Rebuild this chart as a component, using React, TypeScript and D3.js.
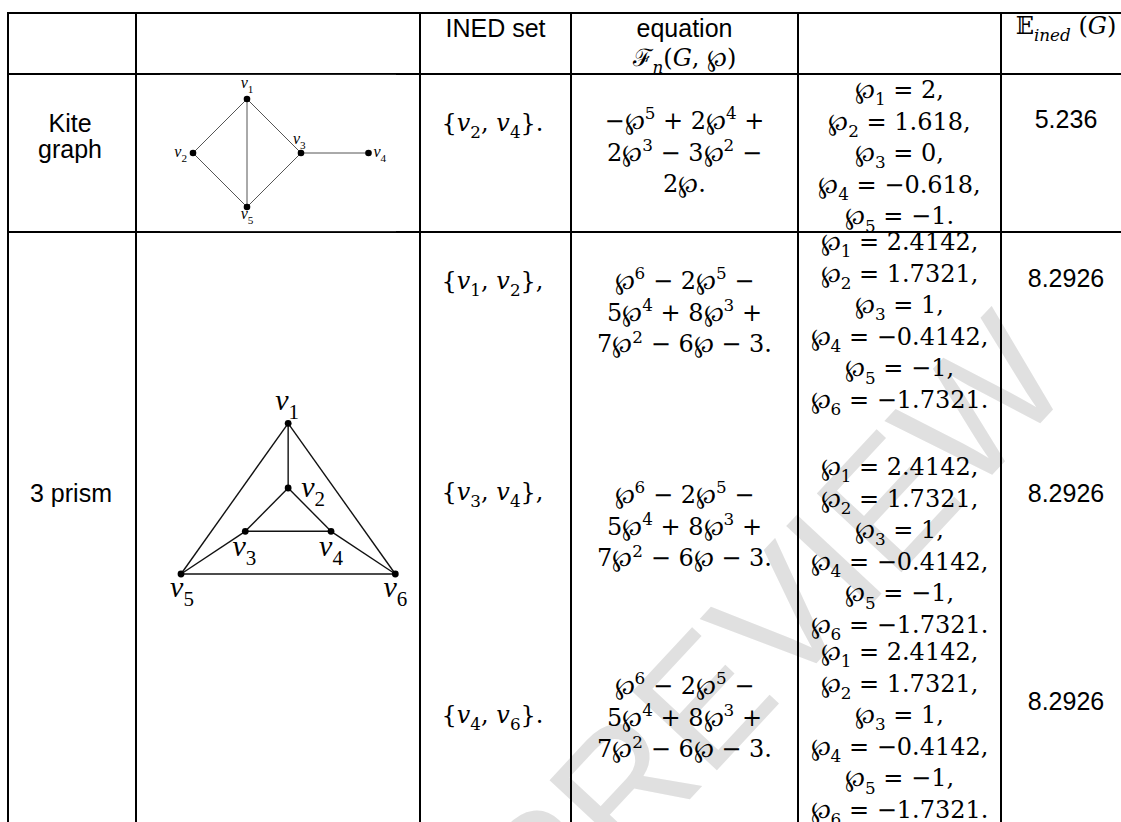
import React from "react";
import * as d3 from "d3";

// header cells (text lines and math lines)
const headerText = ["", "", "INED set", "equation", "", ""];
const headerMath = ["", "", "", "ℱ_n(G, ℘)", "", "𝔼_{ined} (G)"];

const graphNames = [["Kite", "graph"], ["3 prism"]];

const kiteSets = ["{v_2, v_4}."];
const prismSets = ["{v_1, v_2},", "{v_3, v_4},", "{v_4, v_6}."];

// polynomial coefficients, highest degree first
const kitePoly = [-1, 2, 2, -3, -2, 0];
const prismPoly = [1, -2, -5, 8, 7, -6, -3];

const kiteRoots = [2, 1.618, 0, -0.618, -1];
const prismRoots = [2.4142, 1.7321, 1, -0.4142, -1, -1.7321];

const kiteEnergy = [5.236];
const prismEnergy = [8.2926, 8.2926, 8.2926];

// graph drawings, node positions in unit coords
const kiteNodes = [
  { id: "1", x: 0, y: -1 },
  { id: "2", x: -1, y: 0 },
  { id: "3", x: 1, y: 0 },
  { id: "4", x: 2.25, y: 0 },
  { id: "5", x: 0, y: 1 },
];
const kiteEdges = [["1", "2"], ["1", "3"], ["1", "5"], ["2", "5"], ["3", "5"], ["3", "4"]];

const prismNodes = [
  { id: "1", x: 0, y: 0 },
  { id: "2", x: 0, y: 1 },
  { id: "3", x: -0.66, y: 1.67 },
  { id: "4", x: 0.66, y: 1.67 },
  { id: "5", x: -1.65, y: 2.33 },
  { id: "6", x: 1.65, y: 2.33 },
];
const prismEdges = [["1", "2"], ["1", "5"], ["1", "6"], ["2", "3"], ["2", "4"], ["3", "4"], ["3", "5"], ["4", "6"], ["5", "6"]];

// layout
const W = 1121;
const H = 822;
const colEdges = [8, 136, 420, 571, 798, 1001, 1131];
const rowEdges = [13, 74, 232, 840];
const lineH = 31.6;
const SANS = "'Liberation Sans', Arial, sans-serif";
const MATH = "'DejaVu Serif', 'Liberation Serif', serif";
const FS = 25;
const MFS = 24;

const colMid = (i: number) => (colEdges[i] + colEdges[i + 1]) / 2;

function polyLines(c: number[]) {
  const deg = c.length - 1;
  const terms: { sign: string; body: string }[] = [];
  c.forEach((a, i) => {
    const p = deg - i;
    if (a === 0) return;
    const abs = Math.abs(a);
    const coef = abs === 1 && p > 0 ? "" : String(abs);
    const v = p === 0 ? "" : p === 1 ? "℘" : `℘^${p}`;
    terms.push({ sign: a < 0 ? "−" : "+", body: coef + v });
  });
  const chunks = [terms.slice(0, 2), terms.slice(2, 4), terms.slice(4)];
  let idx = 0;
  return chunks.map((ch, ci) => {
    let s = "";
    ch.forEach((t, k) => {
      if (idx === 0) s += (t.sign === "−" ? "−" : "") + t.body;
      else if (k === 0) s += t.body;
      else s += ` ${t.sign} ${t.body}`;
      idx++;
    });
    if (ci < chunks.length - 1) s += ` ${terms[idx].sign}`;
    else s += ".";
    return s;
  });
}

const rootLines = (r: number[]) =>
  r.map((v, i) => `℘_${i + 1} = ${v < 0 ? "−" : ""}${Math.abs(v)}${i < r.length - 1 ? "," : "."}`);

function parseMath(s: string) {
  const out: { t: string; k: string }[] = [];
  let buf = "";
  let i = 0;
  while (i < s.length) {
    const c = s[i];
    if (c === "_" || c === "^") {
      if (buf) out.push({ t: buf, k: "n" });
      buf = "";
      let arg = "";
      if (s[i + 1] === "{") {
        const j = s.indexOf("}", i + 2);
        arg = s.slice(i + 2, j);
        i = j + 1;
      } else {
        arg = s[i + 1];
        i += 2;
      }
      out.push({ t: arg, k: c === "_" ? "sub" : "sup" });
    } else {
      buf += c;
      i++;
    }
  }
  if (buf) out.push({ t: buf, k: "n" });
  return out;
}

function MathText({ x, y, s, size = MFS, anchor = "middle", family = MATH }: any) {
  const segs = parseMath(s);
  let cur = 0;
  const spans: any[] = [];
  segs.forEach((seg, i) => {
    const target = seg.k === "sub" ? size * 0.3 : seg.k === "sup" ? -size * 0.4 : 0;
    const fs = seg.k === "n" ? size : size * 0.7;
    const parts = seg.t.split(/([A-Za-z]+)/).filter((p) => p);
    parts.forEach((p, j) => {
      const dy = j === 0 ? target - cur : 0;
      spans.push(
        <tspan key={`${i}-${j}`} dy={dy} fontSize={fs} fontStyle={/[A-Za-z]/.test(p) ? "italic" : "normal"}>
          {p}
        </tspan>
      );
    });
    cur = target;
  });
  return (
    <text x={x} y={y} textAnchor={anchor} fontFamily={family} fill="#000" style={{ whiteSpace: "pre" }}>
      {spans}
    </text>
  );
}

function Graph({ nodes, edges, xs, ys, r, stroke, sw, labels, lsize }: any) {
  const byId = new Map(nodes.map((n: any) => [n.id, n]));
  return (
    <g>
      {edges.map(([a, b]: string[]) => {
        const na: any = byId.get(a);
        const nb: any = byId.get(b);
        return <line key={a + b} x1={xs(na.x)} y1={ys(na.y)} x2={xs(nb.x)} y2={ys(nb.y)} stroke={stroke} strokeWidth={sw} />;
      })}
      {nodes.map((n: any) => (
        <circle key={n.id} cx={xs(n.x)} cy={ys(n.y)} r={r} fill="#000" />
      ))}
      {nodes.map((n: any, i: number) => {
        const l = labels[i];
        return (
          <MathText key={"l" + n.id} x={xs(n.x) + l.dx} y={ys(n.y) + l.dy} s={`v_${n.id}`} size={lsize} anchor={l.a} family="'Liberation Serif', serif" />
        );
      })}
    </g>
  );
}

const kiteLabelPos = [
  { dx: 0, dy: -11, a: "middle" },
  { dx: -6, dy: 4, a: "end" },
  { dx: -8, dy: -9, a: "start" },
  { dx: 5, dy: 4, a: "start" },
  { dx: 0, dy: 12, a: "middle" },
];
const prismLabelPos = [
  { dx: -1, dy: -13, a: "middle" },
  { dx: 13, dy: 9, a: "start" },
  { dx: -1, dy: 25, a: "middle" },
  { dx: 0, dy: 25, a: "middle" },
  { dx: 1, dy: 23, a: "middle" },
  { dx: 0, dy: 23, a: "middle" },
];

export default function App() {
  const kx = d3.scaleLinear().domain([-1, 1]).range([193, 301]);
  const ky = d3.scaleLinear().domain([-1, 1]).range([99, 207]);
  const px = d3.scaleLinear().domain([-1.65, 1.65]).range([181, 395.3]);
  const py = d3.scaleLinear().domain([0, 2.33]).range([423.3, 574]);

  const kiteEq = polyLines(kitePoly);
  const prismEq = polyLines(prismPoly);
  const kr = rootLines(kiteRoots);
  const pr = rootLines(prismRoots);

  const right = colEdges[colEdges.length - 1];
  const bottom = rowEdges[rowEdges.length - 1];

  return (
    <svg width={W} height={H} style={{ position: "absolute", left: 0, top: 0, background: "#fff" }}>
      <rect width={W} height={H} fill="#fff" />
      <text
        transform="translate(770,628) rotate(-47)"
        textAnchor="middle"
        dominantBaseline="central"
        fontFamily={SANS}
        fontSize={168}
        fill="#e0e0e0"
      >
        PREVIEW
      </text>

      {/* grid */}
      {colEdges.slice(0, -1).map((x) => (
        <line key={"c" + x} x1={x} x2={x} y1={rowEdges[0] - 1} y2={bottom} stroke="#000" strokeWidth={2} />
      ))}
      {rowEdges.slice(0, -1).map((y) => (
        <line key={"r" + y} x1={colEdges[0] - 1} x2={right} y1={y} y2={y} stroke="#000" strokeWidth={2} />
      ))}

      {/* header */}
      {headerText.map((t, i) =>
        t ? (
          <text key={"h" + i} x={colMid(i)} y={37} textAnchor="middle" fontFamily={SANS} fontSize={FS}>
            {t}
          </text>
        ) : null
      )}
      {headerMath.map((t, i) =>
        t ? <MathText key={"hm" + i} x={i === 5 ? 1066 : colMid(i)} y={i === 5 ? 34 : 66} s={t} /> : null
      )}

      {/* kite row */}
      {graphNames[0].map((t, i) => (
        <text key={"k" + i} x={colMid(0) - 2} y={132 + i * 26} textAnchor="middle" fontFamily={SANS} fontSize={FS}>
          {t}
        </text>
      ))}
      <rect x={160} y={74} width={236} height={158} fill="#fff" />
      <line x1={160} x2={396} y1={74.5} y2={74.5} stroke="#222" strokeWidth={1.2} />
      <line x1={160} x2={396} y1={231.5} y2={231.5} stroke="#222" strokeWidth={1.2} />
      <Graph nodes={kiteNodes} edges={kiteEdges} xs={kx} ys={ky} r={3.3} stroke="#555" sw={1} labels={kiteLabelPos} lsize={16} />
      <MathText x={colMid(2) - 3} y={131} s={kiteSets[0]} />
      {kiteEq.map((s, i) => (
        <MathText key={"ke" + i} x={colMid(3)} y={129 + i * lineH} s={s} />
      ))}
      {kr.map((s, i) => (
        <MathText key={"kr" + i} x={colMid(4)} y={98 + i * lineH} s={s} />
      ))}
      {kiteEnergy.map((v, i) => (
        <text key={"ken" + i} x={1066} y={128} textAnchor="middle" fontFamily={SANS} fontSize={FS}>
          {String(v)}
        </text>
      ))}

      {/* prism row */}
      {graphNames[1].map((t, i) => (
        <text key={"p" + i} x={colMid(0) - 1} y={502 + i * 25} textAnchor="middle" fontFamily={SANS} fontSize={FS}>
          {t}
        </text>
      ))}
      <Graph nodes={prismNodes} edges={prismEdges} xs={px} ys={py} r={3.4} stroke="#111" sw={1.4} labels={prismLabelPos} lsize={30} />
      {prismSets.map((s, i) => (
        <MathText key={"ps" + i} x={colMid(2) - 3} y={[289, 500, 723][i]} s={s} />
      ))}
      {[289, 503, 694].map((y0, g) =>
        prismEq.map((s, i) => <MathText key={`pe${g}-${i}`} x={colMid(3)} y={y0 + i * lineH} s={s} />)
      )}
      {[250, 475, 660].map((y0, g) =>
        pr.map((s, i) => <MathText key={`pr${g}-${i}`} x={colMid(4)} y={y0 + i * lineH} s={s} />)
      )}
      {prismEnergy.map((v, i) => (
        <text key={"pen" + i} x={1066} y={[287, 502, 710][i]} textAnchor="middle" fontFamily={SANS} fontSize={FS}>
          {String(v)}
        </text>
      ))}
    </svg>
  );
}
